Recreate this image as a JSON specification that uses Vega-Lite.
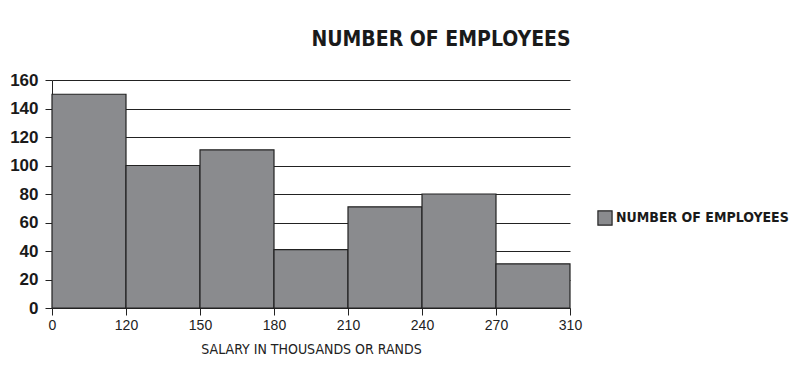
{
  "$schema": "https://vega.github.io/schema/vega-lite/v6.json",
  "width": 518,
  "height": 228,
  "autosize": {"type": "none"},
  "padding": {"left": 52, "top": 80, "right": 233, "bottom": 62},
  "background": "white",
  "title": {
    "text": "NUMBER OF EMPLOYEES",
    "anchor": "middle",
    "dx": 130,
    "offset": 21,
    "font": "Liberation Sans Narrow, DejaVu Sans Condensed, sans-serif",
    "fontSize": 21,
    "fontWeight": "bold",
    "color": "#1a1a1a"
  },
  "data": {
    "values": [
      {"start": 0, "end": 1, "salary": "0-120", "employees": 150, "series": "NUMBER OF EMPLOYEES"},
      {"start": 1, "end": 2, "salary": "120-150", "employees": 100, "series": "NUMBER OF EMPLOYEES"},
      {"start": 2, "end": 3, "salary": "150-180", "employees": 111, "series": "NUMBER OF EMPLOYEES"},
      {"start": 3, "end": 4, "salary": "180-210", "employees": 41, "series": "NUMBER OF EMPLOYEES"},
      {"start": 4, "end": 5, "salary": "210-240", "employees": 71, "series": "NUMBER OF EMPLOYEES"},
      {"start": 5, "end": 6, "salary": "240-270", "employees": 80, "series": "NUMBER OF EMPLOYEES"},
      {"start": 6, "end": 7, "salary": "270-310", "employees": 31, "series": "NUMBER OF EMPLOYEES"}
    ]
  },
  "mark": {"type": "bar", "stroke": "#222222", "strokeWidth": 1.2},
  "encoding": {
    "x": {
      "field": "start",
      "type": "quantitative",
      "scale": {"domain": [0, 7], "nice": false, "zero": false},
      "axis": {
        "title": "SALARY IN THOUSANDS OR RANDS",
        "values": [0, 1, 2, 3, 4, 5, 6, 7],
        "labelExpr": "['0','120','150','180','210','240','270','310'][datum.value]",
        "grid": false,
        "domainColor": "#222222",
        "tickColor": "#222222",
        "tickSize": 7,
        "labelFont": "Liberation Sans, sans-serif",
        "labelFontSize": 14,
        "labelColor": "#222222",
        "labelPadding": 3,
        "labelFlush": false,
        "titleFont": "Liberation Sans Narrow, DejaVu Sans Condensed, sans-serif",
        "titleFontSize": 14,
        "titleFontWeight": "normal",
        "titleColor": "#222222",
        "titlePadding": 10
      }
    },
    "x2": {"field": "end"},
    "y": {
      "field": "employees",
      "type": "quantitative",
      "scale": {"domain": [0, 160], "nice": false},
      "axis": {
        "title": null,
        "values": [0, 20, 40, 60, 80, 100, 120, 140, 160],
        "grid": true,
        "gridColor": "#222222",
        "gridWidth": 1,
        "domainColor": "#222222",
        "tickColor": "#222222",
        "tickSize": 7,
        "labelFont": "Liberation Sans, sans-serif",
        "labelFontSize": 17,
        "labelFontWeight": "bold",
        "labelColor": "#1a1a1a",
        "labelPadding": 7,
        "labelFlush": false
      }
    },
    "y2": {"datum": 0},
    "color": {
      "field": "series",
      "type": "nominal",
      "scale": {"range": ["#8a8b8e"]},
      "legend": {
        "title": null,
        "orient": "none",
        "legendX": 545,
        "legendY": 130,
        "symbolType": "square",
        "symbolSize": 200,
        "symbolStrokeColor": "#222222",
        "symbolStrokeWidth": 1.2,
        "symbolOpacity": 1,
        "labelFont": "Liberation Sans Narrow, DejaVu Sans Condensed, sans-serif",
        "labelFontSize": 14,
        "labelFontWeight": "bold",
        "labelColor": "#1a1a1a",
        "labelOffset": 3,
        "labelLimit": 0
      }
    }
  },
  "config": {
    "view": {"stroke": null}
  }
}
